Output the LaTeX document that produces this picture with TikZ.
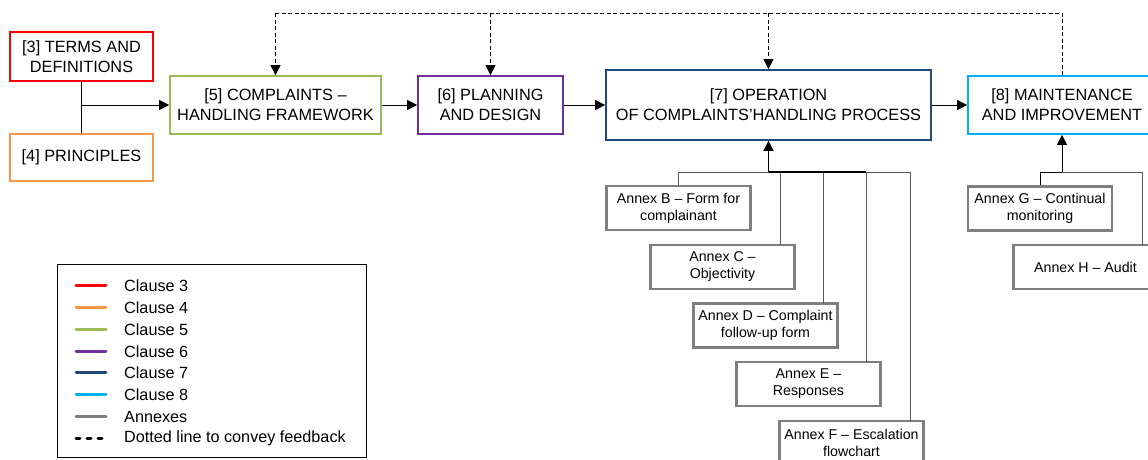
\documentclass[tikz,border=0pt]{standalone}
\usepackage{fontspec}
\setmainfont{Liberation Sans}
\usetikzlibrary{arrows.meta}
\definecolor{cThree}{HTML}{FF0000}
\definecolor{cFour}{HTML}{F79646}
\definecolor{cFive}{HTML}{9BBB59}
\definecolor{cSix}{HTML}{7030A0}
\definecolor{cSeven}{HTML}{1F497D}
\definecolor{cEight}{HTML}{00B0F0}
\definecolor{cAnnex}{HTML}{7F7F7F}
\tikzset{
  clause/.style={draw, line width=1.7pt, fill=white, align=center, inner sep=0pt,
    font=\fontsize{16.3}{20}\selectfont},
  annex/.style={draw=cAnnex, line width=2.2pt, fill=white, align=center, inner sep=0pt,
    minimum width=144pt, minimum height=44pt, font=\fontsize{14.2}{17}\selectfont},
  flow/.style={-{Triangle[length=10pt,width=10pt]}, line width=0.8pt},
  feedback/.style={dash pattern=on 4pt off 2.5pt, line width=0.7pt},
  fbarrow/.style={feedback, -{Triangle[length=10pt,width=10pt]}},
  link/.style={draw=black!65, line width=0.8pt},
  legline/.style={line width=3pt, line cap=round},
  legtext/.style={anchor=west, inner sep=0pt, font=\fontsize{16.2}{18}\selectfont}
}
\begin{document}
\begin{tikzpicture}[x=1pt,y=-1pt]
\clip (0,0) rectangle (1148,459);
\fill[white] (0,0) rectangle (1148,459);

% clause boxes
\node[clause, draw=cThree, minimum width=143pt, minimum height=49pt] (c3) at (81.5,56.5) {[3] TERMS AND\\DEFINITIONS};
\node[clause, draw=cFour, minimum width=143pt, minimum height=47pt] (c4) at (81.5,157.5) {[4] PRINCIPLES};
\node[clause, draw=cFive, minimum width=211pt, minimum height=58pt] (c5) at (275.5,105) {[5] COMPLAINTS –\\HANDLING FRAMEWORK};
\node[clause, draw=cSix, minimum width=145pt, minimum height=58pt] (c6) at (490.5,105) {[6] PLANNING\\AND DESIGN};
\node[clause, draw=cSeven, minimum width=325pt, minimum height=70pt] (c7) at (768.5,105) {[7] OPERATION\\OF COMPLAINTS’HANDLING PROCESS};
\node[clause, draw=cEight, minimum width=188pt, minimum height=58pt] (c8) at (1062,105) {[8] MAINTENANCE\\AND IMPROVEMENT};

% annex boxes
\node[annex] (aB) at (678.5,208) {Annex B – Form for\\complainant};
\node[annex] (aC) at (722.5,267) {Annex C –\\Objectivity};
\node[annex] (aD) at (765.5,325.5) {Annex D – Complaint\\follow-up form};
\node[annex] (aE) at (808.5,384) {Annex E –\\Responses};
\node[annex] (aF) at (851.5,443) {Annex F – Escalation\\flowchart};
\node[annex] (aG) at (1040,208.5) {Annex G – Continual\\monitoring};
\node[annex] (aH) at (1085.5,267) {Annex H – Audit};

% main flow
\coordinate (j34) at (81.5,105);
\draw[line width=0.8pt] (c3.south) -- (c4.north);
\draw[flow] (j34) -- (c5.west);
\draw[flow] (c5.east) -- (c6.west);
\draw[flow] (c6.east) -- (c7.west);
\draw[flow] (c7.east) -- (c8.west);

% feedback loop
\coordinate (fbR) at (1062,13);
\coordinate (fbL) at (275.5,13);
\draw[feedback] (c8.north) -- (fbR) -- (fbL);
\draw[fbarrow] (fbL) -- (c5.north);
\draw[fbarrow] (490.5,13) -- (c6.north);
\draw[fbarrow] (768.5,13) -- (c7.north);

% annexes feeding clause 7
\coordinate (bus7) at (768.5,172);
\draw[link] (aB.north) -- (678.5,172) -- (910,172) -- (910,421);
\draw[link] (780,172) -- (780,245);
\draw[link] (823,172) -- (823,303.5);
\draw[link] (866,172) -- (866,362);
\draw[line width=1.5pt] (bus7) -- (866,172);
\draw[flow, line width=1.5pt] (bus7) -- (c7.south);

% annexes feeding clause 8
\coordinate (bus8) at (1062,172);
\draw[link] (1142,245) -- (1142,172) -- (bus8);
\draw[line width=0.8pt] (aG.north) -- (1040,172) -- (bus8);
\draw[flow] (bus8) -- (c8.south);

% legend
\node[draw, line width=1pt, minimum width=309pt, minimum height=193pt, inner sep=0pt] (leg) at (211.5,360.5) {};
\foreach \y/\c/\t in {285/cThree/Clause 3, 307/cFour/Clause 4, 329/cFive/Clause 5, 351/cSix/Clause 6, 372/cSeven/Clause 7, 394/cEight/Clause 8, 416/cAnnex/Annexes}{
  \draw[legline, draw=\c] (76,\y) -- (106,\y);
  \node[legtext] at (124,\y+0.5) {\t};
}
\draw[line width=3pt, dash pattern=on 4pt off 7pt, line cap=round] (76,438) -- (106,438);
\node[legtext] at (124,438.5) {Dotted line to convey feedback};
\end{tikzpicture}
\end{document}
